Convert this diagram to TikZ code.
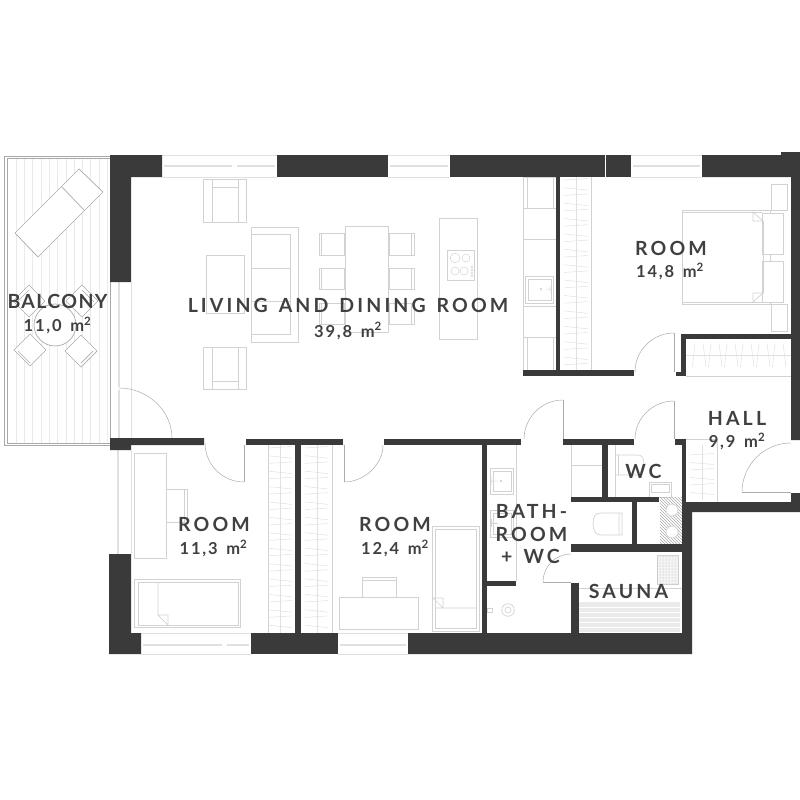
\documentclass[tikz,border=0pt]{standalone}
\usepackage{fontspec}
\usetikzlibrary{patterns}
\setmainfont{Lato}
\newfontfamily\planbig[LetterSpace=16,WordSpace=1.4]{Lato}
\newfontfamily\plantight[LetterSpace=7]{Lato}
\newfontfamily\plansmall[LetterSpace=11,WordSpace=1.5]{Lato}
\definecolor{wallgray}{HTML}{3A3A3A}
\definecolor{textgray}{HTML}{404040}
\definecolor{furngray}{HTML}{D2D2D2}
\definecolor{hanggray}{HTML}{E0E0E0}
\definecolor{deckgray}{HTML}{EAEAEA}
\definecolor{railgray}{HTML}{A8A8A8}
\definecolor{doorgray}{HTML}{ABABAB}
\tikzset{
  wall/.style={fill=wallgray},
  furn/.style={draw=furngray,line width=0.7pt},
  hanger/.style={draw=hanggray,line width=0.5pt},
  deck/.style={draw=deckgray,line width=0.5pt},
  door/.style={draw=doorgray,line width=0.5pt},
  pane/.style={draw=hanggray,line width=0.6pt},
  roomname/.style={text=textgray,font=\planbig\bfseries\fontsize{19.5}{20}\selectfont,inner sep=0pt,anchor=center},
  roomarea/.style={text=textgray,font=\plansmall\bfseries\fontsize{16.5}{17}\selectfont,inner sep=0pt,anchor=center},
}
\begin{document}
\begin{tikzpicture}[x=1pt,y=-1pt]
  \useasboundingbox (0,0) rectangle (800,800);
  % Balcony
  \foreach \x in {16,24.3,...,108} \draw[deck] (\x,158) -- (\x,443);
  \draw[draw=railgray,line width=0.7pt] (4.5,156) rectangle (110,445.5);
  \draw[draw=railgray,line width=0.7pt] (7,158.5) -- (7,443) -- (110,443);
  \draw[draw=railgray,line width=0.7pt] (7,158.5) -- (110,158.5);
  \draw[furn,draw=doorgray,fill=white] (79,169) -- (103,192) -- (38,257) -- (15,233) -- cycle;
  \draw[furn,draw=doorgray] (62,187) -- (84,210);
  \foreach \cx/\cy in {29/301,82/301,30/350,81/351}
    \draw[furn,draw=doorgray,fill=white] (\cx,\cy-16) -- (\cx+16,\cy) -- (\cx,\cy+16) -- (\cx-16,\cy) -- cycle;
  \draw[furn,draw=doorgray] (18,351) -- (30,363);
  \draw[furn,draw=doorgray] (93,351) -- (81,363);
  \draw[furn,draw=doorgray] (17,302) -- (29,290);
  \draw[furn,draw=doorgray] (94,302) -- (82,290);
  \draw[furn,draw=doorgray,fill=white] (55,325) circle (21);
  % Living room furniture
  \draw[furn] (203,179) rectangle (246,222) (212,179) -- (212,222) (238,179) -- (238,222) (212,187) -- (238,187);
  \draw[furn] (203,347) rectangle (246,389) (212,347) -- (212,389) (238,347) -- (238,389) (212,381) -- (238,381);
  \draw[furn] (206,255) rectangle (244,313);
  \draw[furn] (251,227) rectangle (298,342);
  \draw[furn] (251,234) -- (290,234) -- (290,334) -- (251,334) (251,268) -- (290,268) (251,301) -- (290,301);
  \draw[furn] (345,226) rectangle (388,332);
  \foreach \ya/\yb in {233/255,268/289,303/324} {
    \draw[furn] (319,\ya) rectangle (344,\yb) (321.5,\ya) -- (321.5,\yb);
    \draw[furn] (389,\ya) rectangle (414,\yb) (411.5,\ya) -- (411.5,\yb);
  }
  % Kitchen
  \draw[furn] (439,218) rectangle (477,339);
  \draw[furn] (447,250) rectangle (474,280);
  \draw[furn,line width=0.5pt] (455,258) circle (4.8) (466,258) circle (4) (455,271) circle (4) (464,271) circle (4);
  \foreach \y in {267,270,273,276} \draw[furn,line width=0.4pt] (472,\y) circle (1.2);
  \draw[furn] (523,177) rectangle (556,370);
  \draw[furn] (523,208) -- (556,208) (523,239) -- (556,239) (523,306) -- (556,306) (523,337) -- (556,337);
  \draw[furn] (527,177) rectangle (553,208) (527,337) rectangle (553,370);
  \draw[furn] (525,276) rectangle (553,303) (528,279) rectangle (551,300);
  \draw[furn,line width=0.5pt] (541,289) circle (1) (546,289) -- (551,289) (550,286) -- (550,292);
  % Room 14,8
  \draw[furn] (591.5,177) -- (591.5,370);
  \draw[hanger] (576,177) -- (576,370);
  \foreach \y [count=\i] in {180,187.7,...,368} {
    \pgfmathsetmacro{\dy}{mod(\i,2)==0 ? 2.5 : -1.5}
    \draw[hanger] (564,\y) -- (588,\y+\dy);
  }
  \draw[furn] (682,210) rectangle (770,304);
  \draw[furn] (682,212) -- (762,212) (682,302) -- (762,302);
  \draw[furn,fill=white] (762,213) rectangle (783,254) (762,261) rectangle (783,302);
  \draw[furn] (771,184) rectangle (787,210) (771,304) rectangle (787,331);
  \draw[furn] (753,212) -- (753,221) -- (763,221) -- cycle (753,302) -- (753,293) -- (763,293) -- cycle;
  \draw[furn] (763,221) -- (763,293);
  % Hall wardrobe and rack
  \draw[hanger] (686,355) -- (791,355);
  \draw[furn] (686,376) -- (791,376);
  \foreach \x [count=\i] in {695,703,...,790} {
    \pgfmathsetmacro{\dx}{mod(\i,2)==0 ? 3 : -2.5}
    \draw[hanger] (\x,343) -- (\x+\dx,367);
  }
  \draw[furn] (686,439) -- (717,439) -- (717,502);
  \draw[hanger] (702,445) -- (702,500);
  \foreach \y [count=\i] in {455,462.5,...,496} {
    \pgfmathsetmacro{\dy}{mod(\i,2)==0 ? 2 : -1.5}
    \draw[hanger] (690,\y) -- (714,\y+\dy);
  }
  % Room 11,3
  \draw[furn] (134,453) rectangle (166,558);
  \draw[furn] (166,489) -- (187,489) -- (187,522) -- (166,522) (184,489) -- (184,522);
  \draw[furn] (134,579) rectangle (240,627) (138,582) rectangle (238,625);
  \draw[furn] (158,582) -- (158,615) -- (168,625) -- (168,615) -- (158,615);
  \draw[furn] (268,445) -- (268,633);
  \draw[hanger] (280,445) -- (280,633);
  \foreach \y [count=\i] in {448,455.7,...,630} {
    \pgfmathsetmacro{\dy}{mod(\i,2)==0 ? 2.5 : -1.5}
    \draw[hanger] (268,\y) -- (292,\y+\dy);
    \draw[hanger] (305,\y) -- (328,\y+\dy);
  }
  % Room 12,4
  \draw[furn] (332,445) -- (332,633);
  \draw[hanger] (317,445) -- (317,633);
  \draw[furn] (339,597) rectangle (418,629);
  \draw[furn] (362,597) -- (362,577) -- (396,577) -- (396,597) (362,580) -- (396,580);
  \draw[furn] (432,526) rectangle (479,631) (435,529) rectangle (476,628);
  \draw[furn] (436,608) -- (476,608) (433,598) -- (443,598) -- (443,608) -- cycle;
  % Bathroom
  \draw[furn] (516,445) -- (516,581);
  \draw[furn] (490,468) rectangle (513,494) (493,471) rectangle (511,491);
  \draw[furn] (490,510) rectangle (513,537) (493,513) rectangle (511,534);
  \draw[furn,line width=0.5pt] (490,481) -- (498,481) (491,477) -- (491,485) (501,481) circle (1);
  \draw[furn,line width=0.5pt] (490,523) -- (498,523) (491,519) -- (491,527);
  \draw[furn] (508,610) circle (6.3) (508,610) circle (3);
  \draw[furn] (487,608) rectangle (492,612);
  \draw[furn] (571,465) -- (602,465) (571,445) -- (571,497);
  \draw[furn] (622,513) -- (601,513) .. controls (595,513) and (593,517) .. (593,524) .. controls (593,531) and (596,535) .. (601,535) -- (622,535) -- cycle (619,513) -- (619,535);
  % WC
  \draw[furn] (615,445) -- (615,497);
  \draw[furn] (615,455) -- (638,455) .. controls (642,455) and (644,458) .. (644,465) .. controls (644,472) and (642,475) .. (638,475) -- (615,475);
  \draw[furn] (618,455) -- (618,475);
  \draw[furn] (649,482) rectangle (671,497) (651,484) rectangle (669,492);
  % Shaft
  \fill[pattern=north west lines,pattern color=doorgray] (660,497) rectangle (682,544);
  \draw[furn,fill=white] (672,510) circle (6) (672,532) circle (6);
  % Sauna
  \fill[deckgray] (579,602) rectangle (680,632);
  \foreach \y in {607,612,617,622,627} \draw[draw=white,line width=0.5pt] (579,\y) -- (680,\y);
  \draw[furn] (579,588) -- (682,588);
  \draw[furn,fill=deckgray!50] (657,555) rectangle (678,584);
  \fill[pattern=dots,pattern color=doorgray] (657,555) rectangle (678,584);
  % Windows
  \foreach \xa/\xb in {162/277,388/450,631/702}
    \draw[pane] (\xa,155) -- (\xb,155) (\xa,177) -- (\xb,177);
  \foreach \xa/\xb in {164/232,237/275,390/448,633/700}
    \draw[pane,line width=2pt] (\xa,165.5) -- (\xb,165.5);
  \foreach \xa/\xb in {141/251,338/408}
    \draw[pane] (\xa,654) -- (\xb,654) (\xa,633) -- (\xb,633);
  \foreach \xa/\xb in {143/222,227/249,340/406}
    \draw[pane,line width=2pt] (\xa,645) -- (\xb,645);
  \draw[pane] (131,282) -- (131,438) (131,450) -- (131,554);
  \draw[pane,line width=2pt] (119,282) -- (119,387) (119,390) -- (119,438) (118,450) -- (118,554);
  % Walls
  \fill[wall] (110,155) -- (162,155) -- (162,177) -- (131,177) -- (131,282) -- (110,282) -- cycle;
  \fill[wall] (110,438) -- (204,438) -- (204,445) -- (131,445) -- (131,450) -- (110,450) -- cycle;
  \fill[wall] (109,554) -- (131,554) -- (131,633) -- (141,633) -- (141,654) -- (109,654) -- cycle;
  \fill[wall] (702,155) -- (781,155) -- (781,152) -- (800,152) -- (800,440) -- (791,440) -- (791,177) -- (702,177) -- cycle;
  \fill[wall] (791,493) -- (800,493) -- (800,512) -- (692,512) -- (692,654) -- (408,654) -- (408,633) -- (682,633) -- (682,502) -- (791,502) -- cycle;
  \foreach \xa/\ya/\xb/\yb in {
    277/155/388/177, 450/155/631/177, 251/633/338/654,
    246/439/343/445, 384/439/521/445, 563/439/634/445, 675/439/686/445,
    295/445/301/633, 482/445/487/633, 487/581/516/586, 571/583/579/633,
    571/544/682/552, 571/497/659/502, 602/445/608/497, 632/502/637/544,
    682/445/686/502, 556/177/560/370, 523/370/634/376, 676/372/686/376,
    681/334/686/372, 686/334/791/339%
  } \fill[wall] (\xa,\ya) rectangle (\xb,\yb);
  \fill[white] (605,155) rectangle (605.6,177);
  % Doors
  \draw[door] (674,333) .. controls (652.5,333) and (635,350.5) .. (635,372);
  \draw[door] (674,333) -- (674,372);
  \draw[door] (674,401) .. controls (653,401) and (635,418) .. (635,439);
  \draw[door] (674,401) -- (674,439);
  \draw[door] (563,400) .. controls (541.5,400) and (524,418) .. (524,439);
  \draw[door] (563,400) -- (563,439);
  \draw[door] (205,443) .. controls (205,464.5) and (222.5,482) .. (244,482);
  \draw[door] (244,445) -- (244,482);
  \draw[door] (344,482) .. controls (364,482) and (383,465) .. (383,445);
  \draw[door] (344,445) -- (344,482);
  \draw[door] (119,388) .. controls (148,388) and (172,411) .. (172,438);
  \draw[door] (791,443) .. controls (764,443) and (742,465) .. (742,492);
  \draw[door] (742,492) -- (791,492);
  \draw[door] (571,554) .. controls (555.5,554) and (543,566.5) .. (543,582);
  \draw[door] (543,582) -- (571,582);
  % Room names
  \node[roomname,font=\plantight\bfseries\fontsize{19.5}{20}\selectfont] (balconyname) at (57.5,301) {BALCONY};
  \node[roomarea] (balconyarea) at (57.5,325.5) {11,0 m\textsuperscript{2}};
  \node[roomname] (livingname) at (348,305.5) {LIVING AND DINING ROOM};
  \node[roomarea] (livingarea) at (348,331) {39,8 m\textsuperscript{2}};
  \node[roomname] (bedname) at (671,248) {ROOM};
  \node[roomarea] (bedarea) at (670,271.5) {14,8 m\textsuperscript{2}};
  \node[roomname] (hallname) at (737,418) {HALL};
  \node[roomarea] (hallarea) at (737,441.5) {9,9 m\textsuperscript{2}};
  \node[roomname] (wcname) at (643.5,471.5) {WC};
  \node[roomname] (bathname) at (531.5,511) {BATH-};
  \node[roomname] (bathroomname) at (531.5,534) {ROOM};
  \node[roomname] (bathwcname) at (530.5,556) {+ WC};
  \node[roomname] (saunaname) at (628.5,591) {SAUNA};
  \node[roomname] (roomaname) at (214,524.5) {ROOM};
  \node[roomarea] (roomaarea) at (213.5,548.5) {11,3 m\textsuperscript{2}};
  \node[roomname] (roombname) at (395,524.5) {ROOM};
  \node[roomarea] (roombarea) at (395,548.5) {12,4 m\textsuperscript{2}};
\end{tikzpicture}
\end{document}
